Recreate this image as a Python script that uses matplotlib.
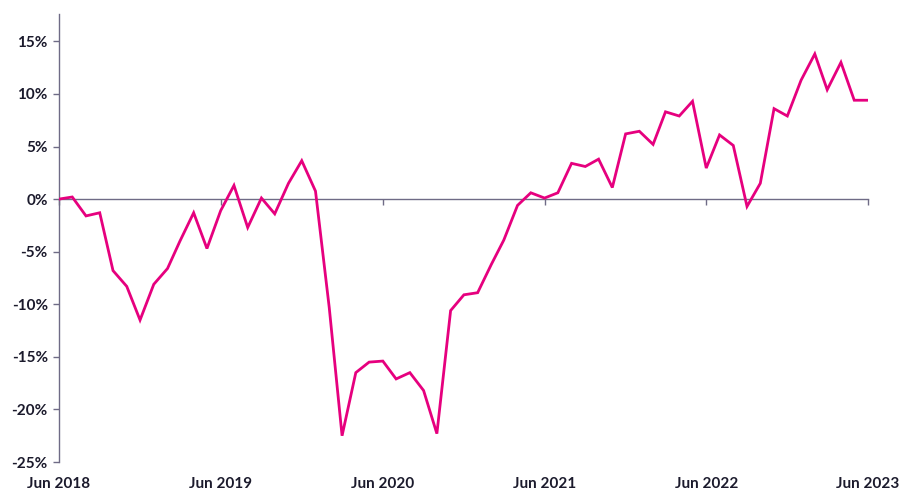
import matplotlib.pyplot as plt
import matplotlib.dates as mdates
import pandas as pd

# monthly % change, Jun 2018 .. Jun 2023
months = pd.date_range("2018-06-01", "2023-06-01", freq="MS")
change = [
    0.0, 0.2, -1.6, -1.3, -6.8, -8.3, -11.5, -8.1, -6.6, -4.0, -1.3, -4.7,
    -1.1, 1.3, -2.7, 0.1, -1.4, 1.5, 3.65, 0.76, -10.3, -22.5, -16.5, -15.5,
    -15.4, -17.1, -16.5, -18.2, -22.3, -10.6, -9.1, -8.9, -6.2, -3.9, -0.6, 0.6,
    0.1, 0.6, 3.4, 3.1, 3.8, 1.1, 6.2, 6.45, 5.2, 8.3, 7.9, 9.3,
    2.95, 6.1, 5.1, -0.7, 1.5, 8.6, 7.9, 11.3, 13.8, 10.4, 13.0, 9.4,
    9.4,
]
y_ticks = [15, 10, 5, 0, -5, -10, -15, -20, -25]
x_ticks = pd.date_range("2018-06-01", "2023-06-01", freq="12MS")

LINE = "#e6007e"
AXIS = "#6f6b86"
TEXT = "#1b1a2c"

plt.rcParams["font.family"] = ["Lato", "DejaVu Sans"]

fig = plt.figure(figsize=(9.03, 4.91), dpi=100)
ax = fig.add_axes([0.0653, 0.059, 0.8959, 0.9125])

ax.plot(months, change, color=LINE, lw=2.0, solid_joinstyle="miter", zorder=3)

ax.set_xlim(months[0], months[-1])
ax.set_ylim(-25, 17.6)

for side in ("top", "right"):
    ax.spines[side].set_visible(False)
ax.spines["left"].set_color(AXIS)
ax.spines["left"].set_linewidth(1.0)
ax.spines["bottom"].set_position(("data", 0))
ax.spines["bottom"].set_color(AXIS)
ax.spines["bottom"].set_linewidth(1.0)

ax.set_yticks(y_ticks)
ax.set_yticklabels([f"{v}%" for v in y_ticks])
ax.tick_params(axis="y", direction="out", length=4, width=1, color=AXIS,
               labelsize=11, labelcolor=TEXT, pad=4)
for lab in ax.get_yticklabels():
    lab.set_fontweight("bold")

# x ticks sit on the zero line, labels go below the plot
ax.set_xticks(x_ticks)
ax.tick_params(axis="x", direction="out", length=4, width=1, color=AXIS,
               labelbottom=False)
for d in x_ticks:
    ax.text(mdates.date2num(d), -0.033, d.strftime("%b %Y"),
            transform=ax.get_xaxis_transform(), ha="center", va="top",
            fontsize=11, fontweight="bold", color=TEXT, clip_on=False)

fig.savefig("out.png", dpi=100)
